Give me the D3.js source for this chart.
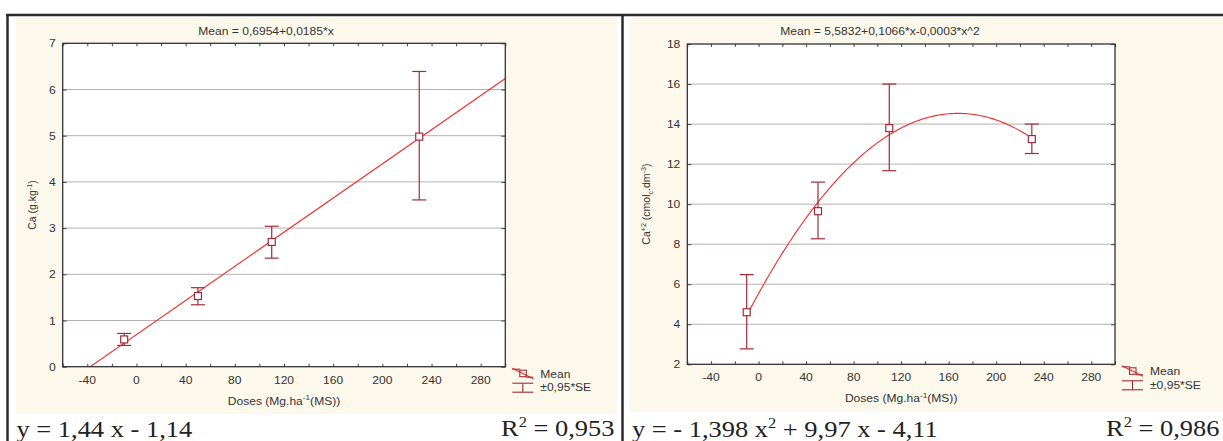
<!DOCTYPE html>
<html>
<head>
<meta charset="utf-8">
<script src="https://cdn.jsdelivr.net/npm/d3@7"></script>
<style>
  body { margin: 0; background: #fff; }
  svg { display: block; }
</style>
</head>
<body>
<div id="chart"></div>
<script>
// data
const doses = [-10, 50, 110, 230];

const caMean = [0.59, 1.53, 2.70, 4.98];
const caLow = [0.46, 1.34, 2.35, 3.61];
const caHigh = [0.72, 1.71, 3.04, 6.39];

const ca2Mean = [4.60, 9.65, 13.80, 13.25];
const ca2Low = [2.77, 8.27, 11.67, 12.53];
const ca2High = [6.48, 11.10, 16.00, 14.00];

const xDomain = [-60, 300];
const xTickLabels = [-40, 0, 40, 80, 120, 160, 200, 240, 280];
const xMinorTicks = [-60, -40, -20, 0, 20, 40, 60, 80, 100, 120, 140, 160, 180, 200, 220, 240, 260, 280, 300];
const caTicks = [0, 1, 2, 3, 4, 5, 6, 7];
const ca2Ticks = [2, 4, 6, 8, 10, 12, 14, 16, 18];

const W = 1223, H = 441;
const STRETCH = 1.15;   // the picture is a bit wide, so text is widened too
const sans = "'Liberation Sans', Arial, sans-serif";
const serif = "'Liberation Serif', 'Times New Roman', serif";
const barColor = "#a02c3a";
const fitColor = "#f52a2a";

const svg = d3.select("#chart")
    .append("svg")
    .attr("width", W)
    .attr("height", H);

svg.append("rect").attr("width", W).attr("height", H).attr("fill", "#fff");

// cream panels
svg.append("rect").attr("x", 16).attr("y", 18).attr("width", 601).attr("height", 396).attr("fill", "#fdf8ec");
svg.append("rect").attr("x", 629).attr("y", 18).attr("width", 594).attr("height", 394).attr("fill", "#fdf8ec");

// frame lines
const frame = svg.append("g").attr("stroke", "#2b2b2b").attr("stroke-width", 2.5);
frame.append("line").attr("x1", 6).attr("x2", W).attr("y1", 15).attr("y2", 15);
frame.append("line").attr("x1", 7.5).attr("x2", 7.5).attr("y1", 14).attr("y2", H);
frame.append("line").attr("x1", 622.5).attr("x2", 622.5).attr("y1", 14).attr("y2", H);

// text with sup / sub parts, widened a bit
function rich(parent, x, y, parts, size, opts = {}) {
    const t = parent.append("text")
        .attr("transform", opts.rotate
            ? `translate(${x},${y}) rotate(-90)`
            : `translate(${x},${y}) scale(${STRETCH},1)`)
        .attr("text-anchor", opts.anchor || "start")
        .style("font-family", opts.font || sans)
        .style("font-size", size + "px")
        .attr("fill", opts.color || "#333");
    let shift = 0;
    parts.forEach(p => {
        const s = typeof p === "string" ? { t: p } : p;
        let target = 0;
        if (s.sup) target = -(opts.supRise || 0.42) * size;
        if (s.sub) target = 0.25 * size;
        t.append("tspan")
            .attr("dy", target - shift)
            .style("font-size", (s.sup || s.sub ? size * (opts.supScale || 0.68) : size) + "px")
            .text(s.t);
        shift = target;
    });
    return t;
}

function linearFit(xs, ys) {
    const mx = d3.mean(xs), my = d3.mean(ys);
    const sxy = d3.sum(xs, (v, i) => (v - mx) * (ys[i] - my));
    const sxx = d3.sum(xs, v => (v - mx) * (v - mx));
    const b = sxy / sxx;
    return v => my - b * mx + b * v;
}

function quadFit(xs, ys) {
    const s = k => d3.sum(xs, v => Math.pow(v, k));
    const t = k => d3.sum(xs, (v, i) => Math.pow(v, k) * ys[i]);
    const A = [[s(0), s(1), s(2), t(0)], [s(1), s(2), s(3), t(1)], [s(2), s(3), s(4), t(2)]];
    // gaussian elimination
    for (let i = 0; i < 3; i++) {
        for (let j = i + 1; j < 3; j++) {
            const f = A[j][i] / A[i][i];
            for (let k = i; k < 4; k++) A[j][k] -= f * A[i][k];
        }
    }
    const c = [0, 0, 0];
    for (let i = 2; i >= 0; i--) {
        let v = A[i][3];
        for (let k = i + 1; k < 3; k++) v -= A[i][k] * c[k];
        c[i] = v / A[i][i];
    }
    return v => c[0] + c[1] * v + c[2] * v * v;
}

function drawPanel(p) {
    const g = svg.append("g");

    const x = d3.scaleLinear().domain(xDomain).range([p.left, p.right]);
    const y = d3.scaleLinear().domain([p.yTicks[0], p.yTicks[p.yTicks.length - 1]]).range([p.bottom, p.top]);

    g.append("rect")
        .attr("x", p.left).attr("y", p.top)
        .attr("width", p.right - p.left).attr("height", p.bottom - p.top)
        .attr("fill", "#fff");

    // horizontal grid
    g.selectAll(".grid")
        .data(p.yTicks.slice(1, -1))
        .enter()
        .append("line")
        .attr("x1", p.left).attr("x2", p.right)
        .attr("y1", d => y(d)).attr("y2", d => y(d))
        .attr("stroke", "#b8afb2")
        .attr("stroke-width", 1);

    // fit line
    const clipId = "clip" + p.id;
    svg.append("clipPath").attr("id", clipId)
        .append("rect")
        .attr("x", p.left).attr("y", p.top)
        .attr("width", p.right - p.left).attr("height", p.bottom - p.top);

    const fit = p.quad ? quadFit(doses, p.mean) : linearFit(doses, p.mean);
    const xs = p.quad ? d3.range(doses[0], doses[doses.length - 1] + 0.01, 2) : xDomain;
    g.append("path")
        .datum(xs)
        .attr("clip-path", `url(#${clipId})`)
        .attr("fill", "none")
        .attr("stroke", fitColor)
        .attr("stroke-width", 1.1)
        .attr("d", d3.line().x(d => x(d)).y(d => y(fit(d))));

    // error bars
    const pts = doses.map((d, i) => ({ x: d, m: p.mean[i], lo: p.low[i], hi: p.high[i] }));
    const bars = g.selectAll(".bar").data(pts).enter().append("g")
        .attr("stroke", barColor).attr("stroke-width", 1.2);
    bars.append("line")
        .attr("x1", d => x(d.x)).attr("x2", d => x(d.x))
        .attr("y1", d => y(d.lo)).attr("y2", d => y(d.hi));
    bars.append("line")
        .attr("x1", d => x(d.x) - 7).attr("x2", d => x(d.x) + 7)
        .attr("y1", d => y(d.lo)).attr("y2", d => y(d.lo));
    bars.append("line")
        .attr("x1", d => x(d.x) - 7).attr("x2", d => x(d.x) + 7)
        .attr("y1", d => y(d.hi)).attr("y2", d => y(d.hi));

    // means
    g.selectAll(".mean").data(pts).enter().append("rect")
        .attr("x", d => x(d.x) - 3.5).attr("y", d => y(d.m) - 3.5)
        .attr("width", 7).attr("height", 7)
        .attr("fill", "#fff")
        .attr("stroke", barColor)
        .attr("stroke-width", 1.2);

    // ticks
    const tickStyle = a => {
        a.select(".domain").remove();
        a.selectAll("line").attr("stroke", "#444");
    };
    g.append("g").attr("transform", `translate(0,${p.bottom})`)
        .call(d3.axisBottom(x).tickValues(xMinorTicks).tickSize(-3).tickFormat(""))
        .call(tickStyle);
    g.append("g").attr("transform", `translate(0,${p.top})`)
        .call(d3.axisTop(x).tickValues(xMinorTicks).tickSize(-3).tickFormat(""))
        .call(tickStyle);
    g.append("g").attr("transform", `translate(${p.left},0)`)
        .call(d3.axisLeft(y).tickValues(p.yTicks).tickSize(-4).tickFormat(""))
        .call(tickStyle);
    g.append("g").attr("transform", `translate(${p.right},0)`)
        .call(d3.axisRight(y).tickValues(p.yTicks).tickSize(-4).tickFormat(""))
        .call(tickStyle);

    // plot frame
    g.append("rect")
        .attr("x", p.left).attr("y", p.top)
        .attr("width", p.right - p.left).attr("height", p.bottom - p.top)
        .attr("fill", "none")
        .attr("stroke", "#333")
        .attr("stroke-width", 1.3);

    // tick labels
    xTickLabels.forEach(v => rich(g, x(v), p.bottom + 17, [String(v)], 10.5, { anchor: "middle" }));
    p.yTicks.forEach(v => rich(g, p.left - 7, y(v) + 4, [String(v)], 10.5, { anchor: "end" }));

    // titles
    rich(g, p.titleX, 35, [p.title], 10.5, { anchor: "middle" });
    rich(g, (p.left + p.right) / 2, p.bottom + 38, ["Doses (Mg.ha", { t: "-1", sup: true }, "(MS))"], 10.5, { anchor: "middle" });
    rich(g, p.yLabelX, (p.top + p.bottom) / 2, p.yLabel, 10.5, { anchor: "middle", rotate: true });

    // legend
    const lx = p.right + 7, ly = p.bottom;
    const lg = g.append("g").attr("stroke-width", 1.1);
    lg.append("line").attr("x1", lx).attr("x2", lx + 21).attr("y1", ly + 1.5).attr("y2", ly + 12).attr("stroke", fitColor);
    lg.append("line").attr("x1", lx).attr("x2", lx + 8).attr("y1", ly + 2.5).attr("y2", ly + 2.5).attr("stroke", barColor);
    lg.append("line").attr("x1", lx + 14).attr("x2", lx + 21).attr("y1", ly + 10.5).attr("y2", ly + 10.5).attr("stroke", barColor);
    lg.append("rect").attr("x", lx + 7.5).attr("y", ly + 3.5).attr("width", 6.5).attr("height", 6.5)
        .attr("fill", "none").attr("stroke", barColor);
    lg.append("line").attr("x1", lx).attr("x2", lx + 21).attr("y1", ly + 16.5).attr("y2", ly + 16.5).attr("stroke", barColor);
    lg.append("line").attr("x1", lx).attr("x2", lx + 21).attr("y1", ly + 25.5).attr("y2", ly + 25.5).attr("stroke", barColor);
    lg.append("line").attr("x1", lx + 10.5).attr("x2", lx + 10.5).attr("y1", ly + 16.5).attr("y2", ly + 25.5).attr("stroke", barColor);
    rich(g, lx + 28, ly + 11, ["Mean"], 10.5);
    rich(g, lx + 28, ly + 24.5, ["\u00b10,95*SE"], 10.5);

    // regression text under the panel
    const eq = { font: serif, color: "#222", supRise: 0.4, supScale: 0.62 };
    rich(svg, p.eqX, 437, p.eq, 23, eq);
    rich(svg, p.r2X, 436, ["R", { t: "2", sup: true }, " = " + p.r2], 23, eq);
}

drawPanel({
    id: "a",
    left: 62.7, right: 505.3, top: 43.3, bottom: 366.7,
    yTicks: caTicks,
    mean: caMean, low: caLow, high: caHigh,
    quad: false,
    title: "Mean = 0,6954+0,0185*x",
    titleX: 266,
    yLabel: ["Ca (g.kg", { t: "-1", sup: true }, ")"],
    yLabelX: 36,
    eq: ["y = 1,44 x - 1,14"],
    eqX: 16.5,
    r2: "0,953",
    r2X: 501
});

drawPanel({
    id: "b",
    left: 687.3, right: 1115, top: 44, bottom: 364.3,
    yTicks: ca2Ticks,
    mean: ca2Mean, low: ca2Low, high: ca2High,
    quad: true,
    title: "Mean = 5,5832+0,1066*x-0,0003*x^2",
    titleX: 880,
    yLabel: ["Ca", { t: "+2", sup: true }, " (cmol", { t: "c", sub: true }, ".dm", { t: "-3", sup: true }, ")"],
    yLabelX: 650,
    eq: ["y = - 1,398 x", { t: "2", sup: true }, " + 9,97 x - 4,11"],
    eqX: 632,
    r2: "0,986",
    r2X: 1106
});
</script>
</body>
</html>
